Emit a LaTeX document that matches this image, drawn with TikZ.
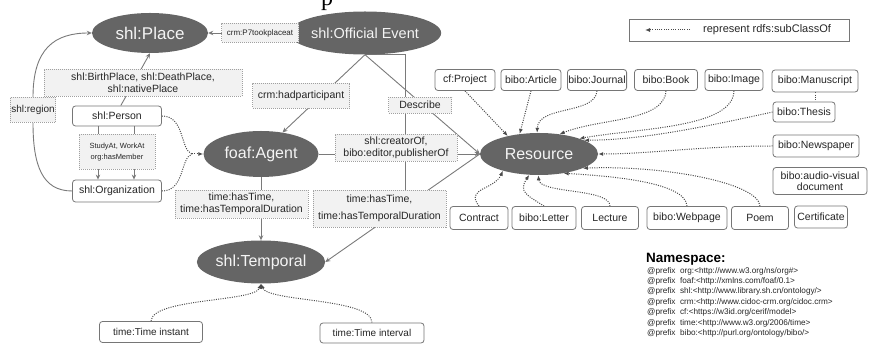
\documentclass[tikz,border=0pt]{standalone}
\usepackage{fontspec}
\setmainfont{Liberation Sans}
\newfontfamily\serifp{Liberation Serif}
\usetikzlibrary{shapes.geometric,arrows.meta,backgrounds}
\definecolor{ellgray}{HTML}{656565}
\definecolor{elltext}{HTML}{F4F4F4}
\definecolor{boxgray}{HTML}{767676}
\definecolor{txt}{HTML}{262626}
\definecolor{labline}{HTML}{A0A0A0}
\definecolor{labfill}{HTML}{F2F2F2}
\definecolor{relgray}{HTML}{7A7A7A}
\definecolor{subgray}{HTML}{4A4A4A}
\newcommand\myfs[2]{\fontsize{#1}{#2}\selectfont}
\begin{document}
\begin{tikzpicture}[x=1pt,y=-1pt,
  cls/.style={ellipse, fill=ellgray, text=elltext, inner sep=0pt, font=\myfs{16}{18}},
  ent/.style={draw=boxgray, line width=0.8pt, rounded corners=3pt, fill=white, text=txt, inner sep=1pt, font=\myfs{10.5}{12}, align=center},
  lab/.style={draw=labline, dash pattern=on 1pt off 1pt, line width=0.8pt, fill=labfill, text=txt, inner sep=1pt, font=\myfs{10.5}{12.5}, align=center},
  rel/.style={draw=relgray, line width=0.9pt},
  rela/.style={rel, -{Stealth[length=5pt,width=4.5pt]}},
  sub/.style={draw=subgray, line width=1pt, dash pattern=on 1pt off 1.3pt, -{Latex[length=5pt,width=4pt]}},
  subn/.style={draw=subgray, line width=1pt, dash pattern=on 1pt off 1.3pt}
]
\useasboundingbox (0,0) rectangle (873,344);
\node[anchor=base, font=\serifp\myfs{24}{24}, text=black, inner sep=0pt] (pfrag) at (327,6) {p};

% class ellipses
\node[cls, minimum width=116pt, minimum height=40pt, font=\myfs{17}{18}] (place) at (150,33) {shl:Place};
\node[cls, minimum width=117pt, minimum height=43pt, font=\myfs{14.5}{16}] (oe) at (365,33) {shl:Official Event};
\node[cls, minimum width=115pt, minimum height=46pt] (agent) at (261,154) {foaf:Agent};
\node[cls, minimum width=118pt, minimum height=42pt] (res) at (539,154) {Resource};
\node[cls, minimum width=117pt, minimum height=43pt] (temp) at (261,262) {shl:Temporal};

% entity boxes
\node[ent, minimum width=89pt, minimum height=20pt] (person) at (117,116) {shl:Person};
\node[ent, minimum width=89pt, minimum height=22pt] (org) at (117,191) {shl:Organization};
\node[ent, minimum width=60pt, minimum height=21pt] (proj) at (465,80) {cf:Project};
\node[ent, minimum width=60pt, minimum height=21pt] (art) at (531,80) {bibo:Article};
\node[ent, minimum width=59pt, minimum height=21pt] (jour) at (597,80) {bibo:Journal};
\node[ent, minimum width=63pt, minimum height=21pt] (book) at (666,80) {bibo:Book};
\node[ent, minimum width=58pt, minimum height=21pt] (img) at (734,80) {bibo:Image};
\node[ent, minimum width=86pt, minimum height=22pt] (manu) at (815,81) {bibo:Manuscript};
\node[ent, minimum width=62pt, minimum height=20pt] (thesis) at (804,112) {bibo:Thesis};
\node[ent, minimum width=86pt, minimum height=22pt] (news) at (816,146) {bibo:Newspaper};
\node[ent, minimum width=94pt, minimum height=27pt, font=\myfs{10.5}{11}] (av) at (820,181) {bibo:audio-visual\\document};
\node[ent, minimum width=58pt, minimum height=23pt] (contract) at (479,218) {Contract};
\node[ent, minimum width=64pt, minimum height=23pt] (letter) at (544,218) {bibo:Letter};
\node[ent, minimum width=57pt, minimum height=23pt] (lecture) at (610,218) {Lecture};
\node[ent, minimum width=80pt, minimum height=23pt] (web) at (687,218) {bibo:Webpage};
\node[ent, minimum width=57pt, minimum height=23pt] (poem) at (760,218) {Poem};
\node[ent, minimum width=53pt, minimum height=22pt] (cert) at (821,217) {Certificate};
\node[ent, minimum width=103pt, minimum height=21pt, font=\myfs{10}{12}] (inst) at (151,332) {time:Time instant};
\node[ent, minimum width=104pt, minimum height=20pt, font=\myfs{10}{12}] (intv) at (372,333) {time:Time interval};

% relation labels
\node[lab, minimum width=77pt, minimum height=19pt, font=\myfs{8}{9}] (p7) at (260,33) {crm:P7tookplaceat};
\node[lab, minimum width=198pt, minimum height=27pt, font=\myfs{10.5}{12}] (birth) at (143,83) {shl:BirthPlace, shl:DeathPlace,\\shl:nativePlace};
\node[lab, minimum width=44pt, minimum height=25pt, font=\myfs{10}{12}] (region) at (33,110) {shl:region};
\node[lab, minimum width=97pt, minimum height=25pt] (hadp) at (301,96) {crm:hadparticipant};
\node[lab, minimum width=63pt, minimum height=16pt] (desc) at (420,105) {Describe};
\node[lab, minimum width=76pt, minimum height=35pt, font=\myfs{7.5}{11}] (study) at (117,152) {StudyAt, WorkAt\\org:hasMember};
\node[lab, minimum width=122pt, minimum height=27pt, font=\myfs{10.5}{12}] (creator) at (396,148) {shl:creatorOf,\\bibo:editor,publisherOf};
\node[lab, minimum width=133pt, minimum height=28pt, font=\myfs{10.5}{11.5}] (time1) at (241.5,204) {time:hasTime,\\time:hasTemporalDuration};
\node[lab, minimum width=133pt, minimum height=37pt, font=\myfs{10.5}{17}] (time2) at (379.5,208.5) {time:hasTime,\\time:hasTemporalDuration};

% legend
\node[draw=boxgray, line width=0.8pt, minimum width=220pt, minimum height=22pt, inner sep=0pt] (leg) at (739,30) {};
\coordinate (legA) at (690,30);
\coordinate (legB) at (645,30);
\node[anchor=west, font=\myfs{11}{12}, text=txt, inner sep=0pt] (legt) at (703,30) {represent rdfs:subClassOf};

% namespace
\node[anchor=west, font=\bfseries\myfs{13.5}{14}, text=black, inner sep=0pt] (nsh) at (646,259) {Namespace:};
\node[anchor=north west, font=\myfs{8.2}{10.4}, align=left, text=txt, inner sep=0pt] (ns) at (647,267) {%
@prefix~ org:<http://www.w3.org/ns/org\#>\\
@prefix~ foaf:<http://xmlns.com/foaf/0.1>\\
@prefix~ shl:<http://www.library.sh.cn/ontology/>\\
@prefix~ crm:<http://www.cidoc-crm.org/cidoc.crm>\\
@prefix~ cf:<https://w3id.org/cerif/model>\\
@prefix~ time:<http://www.w3.org/2006/time>\\
@prefix~ bibo:<http://purl.org/ontology/bibo/>};

\coordinate (join) at (192,154);

\begin{scope}[on background layer]
  % solid relations
  \draw[rela] (oe.west) -- (place.east);
  \draw[rela] (person.70) -- (place.south);
  \draw[rel] (org.west) .. controls (42,191) and (33,165) .. (region.south);
  \draw[rela] (region.north) .. controls (33,48) and (55,33) .. (place.west);
  \draw[rela] ([xshift=-19pt]person.south) -- ([xshift=-19pt]org.north);
  \draw[rela] ([xshift=17pt]person.south) -- ([xshift=17pt]org.north);
  \draw[rela] (oe.south) -- (agent.45);
  \draw[rela] (oe.south) -- (res.west);
  \draw[rel] (oe.south) -| ([xshift=25.5pt]time2.north);
  \draw[rela] (agent.east) -- (res.west);
  \draw[rela] (res.west) -- (temp.east);
  \draw[rela] (agent.south) -- (temp.north);
  % agent subclasses
  \draw[subn] (person.east) .. controls (185,116) and (180,150) .. (join);
  \draw[subn] (org.east) .. controls (185,191) and (180,158) .. (join);
  \draw[sub] (join) -- (agent.west);
  % resource subclasses
  \draw[sub] (proj.south) -- (res.150);
  \draw[sub] (art.south) -- (res.134);
  \draw[sub] (jour.south) .. controls (595,115) and (538,105) .. (res.95);
  \draw[sub] (book.south) .. controls (664,122) and (600,118) .. (res.44);
  \draw[sub] (img.south) .. controls (733,128) and (640,128) .. (res.21);
  \draw[subn] (manu.south) -- (manu.south |- thesis.north);
  \draw[sub] (thesis.west) .. controls (700,128) and (640,140) .. (res.17);
  \draw[sub] (news.west) .. controls (700,146) and (650,154) .. (res.east);
  \draw[sub] (poem.north) .. controls (758,182) and (660,165) .. (res.-18);
  \draw[sub] (web.north) .. controls (686,182) and (610,176) .. (res.-38);
  \draw[sub] (lecture.north) .. controls (610,188) and (540,194) .. (res.-92);
  \draw[sub] (letter.north) .. controls (527,195) and (518,192) .. (res.-115);
  \draw[sub] (contract.north) .. controls (465,188) and (494,190) .. (res.-155);
  % temporal subclasses
  \draw[sub] (inst.north) .. controls (152,298) and (255,302) .. (temp.south);
  \draw[sub] (intv.north) .. controls (372,298) and (268,302) .. (temp.south);
  % legend arrow
  \draw[sub] (legA) -- (legB);
\end{scope}
\end{tikzpicture}
\end{document}
